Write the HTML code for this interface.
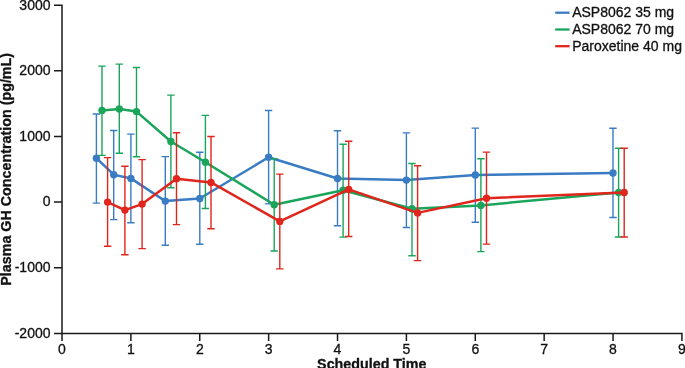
<!DOCTYPE html>
<html lang="en"><head><meta charset="utf-8"><title>Plasma GH Concentration</title>
<style>
html,body{margin:0;padding:0;background:#fff}
svg{display:block;will-change:transform}
text{font-family:"Liberation Sans",Arial,Helvetica,sans-serif;font-size:14px;fill:#111;stroke:#111;stroke-width:.3px}
text.b{font-weight:bold;font-size:14.3px}
</style></head><body>
<svg width="685" height="368" viewBox="0 0 685 368">
<rect width="685" height="368" fill="#fff"/>
<path d="M62.0 4.45V340.9M54.0 333.4H682.67M54.0 5.20H62.0M54.0 70.84H62.0M54.0 136.48H62.0M54.0 202.12H62.0M54.0 267.76H62.0M130.88 333.4V340.9M199.76 333.4V340.9M268.64 333.4V340.9M337.52 333.4V340.9M406.40 333.4V340.9M475.28 333.4V340.9M544.16 333.4V340.9M613.04 333.4V340.9M681.92 333.4V340.9" stroke="#1a1a1a" stroke-width="1.5" fill="none"/>
<g class="tk"><text x="50.5" y="9.5" text-anchor="end">3000</text><text x="50.5" y="75.1" text-anchor="end">2000</text><text x="50.5" y="140.8" text-anchor="end">1000</text><text x="50.5" y="206.4" text-anchor="end">0</text><text x="50.5" y="272.1" text-anchor="end">-1000</text><text x="50.5" y="337.7" text-anchor="end">-2000</text><text x="62.0" y="353.6" text-anchor="middle">0</text><text x="130.9" y="353.6" text-anchor="middle">1</text><text x="199.8" y="353.6" text-anchor="middle">2</text><text x="268.6" y="353.6" text-anchor="middle">3</text><text x="337.5" y="353.6" text-anchor="middle">4</text><text x="406.4" y="353.6" text-anchor="middle">5</text><text x="475.3" y="353.6" text-anchor="middle">6</text><text x="544.2" y="353.6" text-anchor="middle">7</text><text x="613.0" y="353.6" text-anchor="middle">8</text><text x="681.9" y="353.6" text-anchor="middle">9</text></g>
<text class="b" x="371.8" y="368.7" text-anchor="middle">Scheduled Time</text>
<text class="b" transform="translate(10.5 169.3) rotate(-90)" text-anchor="middle">Plasma GH Concentration (pg/mL)</text>
<g stroke="#3a7cc3" fill="none">
<path d="M96.4 114.0V203.1M92.7 114.0H100.1M92.7 203.1H100.1M113.7 130.5V219.6M110.0 130.5H117.4M110.0 219.6H117.4M130.9 134.1V222.8M127.2 134.1H134.6M127.2 222.8H134.6M165.3 156.6V245.3M161.6 156.6H169.0M161.6 245.3H169.0M199.8 152.2V244.3M196.1 152.2H203.5M196.1 244.3H203.5M268.6 110.5V203.9M264.9 110.5H272.3M264.9 203.9H272.3M337.5 130.8V225.8M333.8 130.8H341.2M333.8 225.8H341.2M406.4 132.9V227.5M402.7 132.9H410.1M402.7 227.5H410.1M475.3 128.1V222.3M471.6 128.1H479.0M471.6 222.3H479.0M613.0 128.3V217.5M609.3 128.3H616.7M609.3 217.5H616.7" stroke-width="1.4"/>
<polyline points="96.4,158.2 113.7,174.7 130.9,178.4 165.3,201.1 199.8,198.5 268.6,157.3 337.5,178.5 406.4,180.1 475.3,175.0 613.0,173.0" stroke-width="2.5" stroke-linejoin="round"/>
</g>
<g fill="#3a7cc3"><circle cx="96.4" cy="158.2" r="3.7"/><circle cx="113.7" cy="174.7" r="3.7"/><circle cx="130.9" cy="178.4" r="3.7"/><circle cx="165.3" cy="201.1" r="3.7"/><circle cx="199.8" cy="198.5" r="3.7"/><circle cx="268.6" cy="157.3" r="3.7"/><circle cx="337.5" cy="178.5" r="3.7"/><circle cx="406.4" cy="180.1" r="3.7"/><circle cx="475.3" cy="175.0" r="3.7"/><circle cx="613.0" cy="173.0" r="3.7"/></g>
<g stroke="#1aa55b" fill="none">
<path d="M102.0 66.1V155.4M98.3 66.1H105.7M98.3 155.4H105.7M119.3 64.1V153.2M115.6 64.1H123.0M115.6 153.2H123.0M136.5 67.5V156.8M132.8 67.5H140.2M132.8 156.8H140.2M170.9 95.1V187.8M167.2 95.1H174.6M167.2 187.8H174.6M205.4 115.4V208.5M201.7 115.4H209.1M201.7 208.5H209.1M274.2 158.6V251.0M270.5 158.6H277.9M270.5 251.0H277.9M343.1 144.3V237.1M339.4 144.3H346.8M339.4 237.1H346.8M412.0 163.5V255.8M408.3 163.5H415.7M408.3 255.8H415.7M480.9 158.7V251.6M477.2 158.7H484.6M477.2 251.6H484.6M618.6 148.2V237.0M614.9 148.2H622.3M614.9 237.0H622.3" stroke-width="1.4"/>
<polyline points="102.0,110.4 119.3,109.0 136.5,111.6 170.9,141.5 205.4,162.3 274.2,204.7 343.1,190.2 412.0,208.8 480.9,205.4 618.6,192.5" stroke-width="2.5" stroke-linejoin="round"/>
</g>
<g fill="#1aa55b"><circle cx="102.0" cy="110.4" r="3.7"/><circle cx="119.3" cy="109.0" r="3.7"/><circle cx="136.5" cy="111.6" r="3.7"/><circle cx="170.9" cy="141.5" r="3.7"/><circle cx="205.4" cy="162.3" r="3.7"/><circle cx="274.2" cy="204.7" r="3.7"/><circle cx="343.1" cy="190.2" r="3.7"/><circle cx="412.0" cy="208.8" r="3.7"/><circle cx="480.9" cy="205.4" r="3.7"/><circle cx="618.6" cy="192.5" r="3.7"/></g>
<g stroke="#e0261c" fill="none">
<path d="M107.6 157.6V246.3M103.9 157.6H111.3M103.9 246.3H111.3M124.9 166.3V254.8M121.2 166.3H128.6M121.2 254.8H128.6M142.1 159.6V248.6M138.4 159.6H145.8M138.4 248.6H145.8M176.5 132.7V224.6M172.8 132.7H180.2M172.8 224.6H180.2M211.0 136.5V228.8M207.3 136.5H214.7M207.3 228.8H214.7M279.8 174.1V268.9M276.1 174.1H283.5M276.1 268.9H283.5M348.7 141.2V236.5M345.0 141.2H352.4M345.0 236.5H352.4M417.6 165.7V260.6M413.9 165.7H421.3M413.9 260.6H421.3M486.5 152.1V244.1M482.8 152.1H490.2M482.8 244.1H490.2M624.2 148.2V237.0M620.5 148.2H627.9M620.5 237.0H627.9" stroke-width="1.4"/>
<polyline points="107.6,202.1 124.9,210.1 142.1,204.1 176.5,178.8 211.0,182.4 279.8,221.4 348.7,189.4 417.6,212.9 486.5,198.2 624.2,192.5" stroke-width="2.5" stroke-linejoin="round"/>
</g>
<g fill="#e0261c"><circle cx="107.6" cy="202.1" r="3.7"/><circle cx="124.9" cy="210.1" r="3.7"/><circle cx="142.1" cy="204.1" r="3.7"/><circle cx="176.5" cy="178.8" r="3.7"/><circle cx="211.0" cy="182.4" r="3.7"/><circle cx="279.8" cy="221.4" r="3.7"/><circle cx="348.7" cy="189.4" r="3.7"/><circle cx="417.6" cy="212.9" r="3.7"/><circle cx="486.5" cy="198.2" r="3.7"/><circle cx="624.2" cy="192.5" r="3.7"/></g>
<path d="M555.2 12.7H569.6" stroke="#3a7cc3" stroke-width="2.3"/>
<text class="lg" x="572.2" y="17.3">ASP8062 35 mg</text>
<path d="M555.2 29.5H569.6" stroke="#1aa55b" stroke-width="2.3"/>
<text class="lg" x="572.2" y="33.9">ASP8062 70 mg</text>
<path d="M555.2 46.2H569.6" stroke="#e0261c" stroke-width="2.3"/>
<text class="lg" x="572.2" y="50.6">Paroxetine 40 mg</text>
</svg>
</body></html>
